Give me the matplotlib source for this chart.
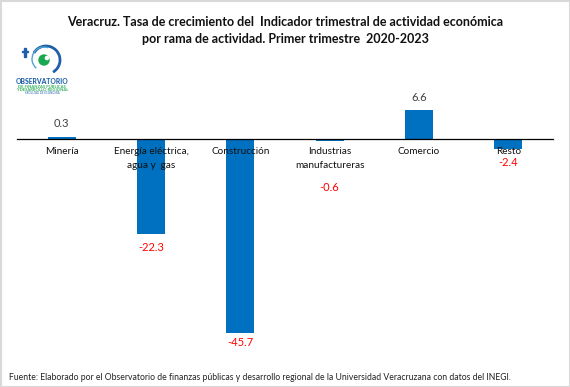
import matplotlib
matplotlib.use('Agg')
import matplotlib.pyplot as plt
from matplotlib.patches import Arc, Circle, Rectangle

plt.rcParams['font.family'] = ['Lato', 'DejaVu Sans']

categorias = ['Minería', 'Energía eléctrica,\nagua y  gas', 'Construcción',
              'Industrias\nmanufactureras', 'Comercio', 'Resto']
valores = [0.3, -22.3, -45.7, -0.6, 6.6, -2.4]
# los valores negativos llevan la etiqueta a distinta altura en el original
etiqueta_y = [3.6, -25.5, -48.0, -11.5, 9.6, -5.7]

W, H = 570, 387
fig = plt.figure(figsize=(W / 100, H / 100), dpi=100)
ax = fig.add_axes([17 / W, 1 - 345 / H, 536 / W, 245 / H])

ax.bar(range(len(valores)), valores, width=0.313, color='#0070C0')
ax.set_xlim(-0.5, 5.5)
ax.set_ylim(-48.47, 9.04)
ax.set_yticks([])
ax.set_xticks([])
for s in ['top', 'left', 'right']:
    ax.spines[s].set_visible(False)
ax.spines['bottom'].set_position(('data', 0))
ax.spines['bottom'].set_linewidth(0.9)
ax.spines['bottom'].set_color('black')
ax.patch.set_alpha(0)

# etiquetas de categoria pegadas al eje, encima de las barras
for i, c in enumerate(categorias):
    ax.annotate(c, (i, 0), xytext=(0, -8), textcoords='offset pixels', ha='center', va='top',
                fontsize=7.2, color='#111111', linespacing=1.75, zorder=5)

for i, v in enumerate(valores):
    ax.text(i, etiqueta_y[i], f'{v:.1f}', ha='center', va='center', fontsize=8.0,
            color='#FF0000' if v < 0 else '#404040', clip_on=False)

# capa en pixeles para titulo, marco, logo y fuente
ov = fig.add_axes([0, 0, 1, 1], zorder=-1)
ov.set_xlim(0, W)
ov.set_ylim(H, 0)
ov.axis('off')

ov.text(285, 22, 'Veracruz. Tasa de crecimiento del  Indicador trimestral de actividad económica',
        ha='center', va='center', fontsize=9.0, fontweight='bold', color='#111111')
ov.text(285, 39, 'por rama de actividad. Primer trimestre  2020-2023',
        ha='center', va='center', fontsize=9.0, fontweight='bold', color='#111111')
ov.text(9, 378, 'Fuente: Elaborado por el Observatorio de finanzas públicas y desarrollo regional de la Universidad Veracruzana con datos del INEGI.',
        ha='left', va='center', fontsize=6.2, color='#222222')

ov.add_patch(Rectangle((0.5, 0.5), W - 1, H - 1, fill=False, ec='#D9D9D9', lw=1.5))

# logo
ov.add_patch(Arc((46, 60), 28, 28, angle=0, theta1=-150, theta2=60, color='#1F5FA8', lw=2.0))
ov.add_patch(Arc((44, 59), 24, 24, angle=0, theta1=130, theta2=290, color='#4FA3D8', lw=1.0))
ov.add_patch(Circle((44, 60), 5, color='#18A84F'))
ov.add_patch(Circle((47, 58), 1.6, color='white'))
ov.add_patch(Rectangle((24.2, 47.5), 1.6, 9.5, color='#1F5FA8'))
ov.add_patch(Rectangle((22, 50.5), 6, 1.8, color='#1F5FA8'))
ov.text(42, 82, 'OBSERVATORIO', ha='center', va='center', fontsize=4.85, fontweight='black', color='#1F5FA8')
ov.text(42, 86.5, 'DE FINANZAS PÚBLICAS', ha='center', va='center', fontsize=3.0, fontweight='bold', color='#2FAE5A')
ov.text(42, 90, 'Y DESARROLLO REGIONAL', ha='center', va='center', fontsize=3.0, fontweight='bold', color='#2FAE5A')
ov.text(42, 92.8, 'FACULTAD DE ECONOMÍA', ha='center', va='center', fontsize=2.0, color='#1F5FA8')

fig.savefig('out.png', dpi=100, facecolor='white')
